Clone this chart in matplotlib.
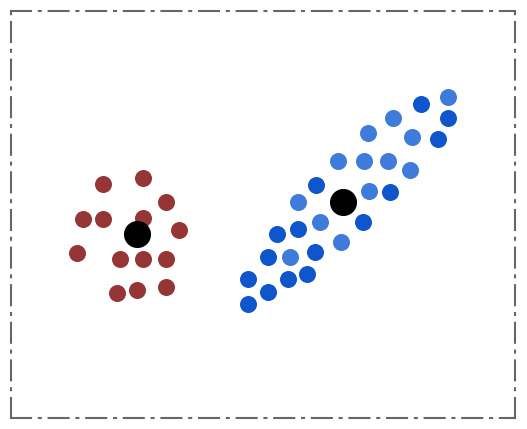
import matplotlib
matplotlib.use("Agg")
import matplotlib.pyplot as plt

# Cluster A (red)
red_x = [102.7, 142.7, 166.0, 82.7, 102.7, 142.7, 179.3, 77.3, 120.0, 142.7, 166.0, 117.3, 137.3, 166.0]
red_y = [184.0, 178.3, 201.7, 219.0, 219.0, 217.7, 230.0, 253.3, 258.7, 258.7, 258.7, 293.3, 290.0, 286.7]

# Cluster B, light blue
lb_x = [448.3, 392.7, 368.3, 411.7, 337.7, 364.0, 387.7, 410.0, 369.3, 297.7, 320.0, 340.7, 290.0]
lb_y = [96.7, 118.3, 133.3, 136.7, 161.0, 161.0, 161.0, 170.0, 191.0, 202.3, 221.7, 241.7, 256.7]

# Cluster B, dark blue
db_x = [420.7, 448.3, 437.7, 316.0, 390.0, 363.3, 298.3, 276.7, 268.3, 315.0, 307.3, 287.7, 248.3, 268.3, 248.3]
db_y = [104.0, 117.7, 139.0, 185.0, 191.7, 221.7, 229.3, 234.3, 256.7, 251.7, 274.0, 278.7, 278.7, 292.3, 304.3]

# Centroids
cen_x = [137.3, 342.7]
cen_y = [234.3, 201.7]

fig = plt.figure(figsize=(5.27, 4.29), dpi=100)
ax = fig.add_axes([11 / 527, 1 - 418 / 429, (515 - 11) / 527, (418 - 11) / 429])

ax.scatter(red_x, red_y, s=150, color="#963535", linewidths=0, zorder=2)
ax.scatter(lb_x, lb_y, s=150, color="#3e7bdb", linewidths=0, zorder=2)
ax.scatter(db_x, db_y, s=150, color="#0f56cc", linewidths=0, zorder=2)
ax.scatter(cen_x, cen_y, s=380, color="black", linewidths=0, zorder=3)

ax.set_xlim(11, 515)
ax.set_ylim(418, 11)
ax.set_xticks([])
ax.set_yticks([])
for sp in ax.spines.values():
    sp.set_linewidth(1.5)
    sp.set_color("#666666")
    sp.set_linestyle((0, (9.6, 3.75, 0.95, 3.75)))

fig.savefig("out.png", dpi=100)
